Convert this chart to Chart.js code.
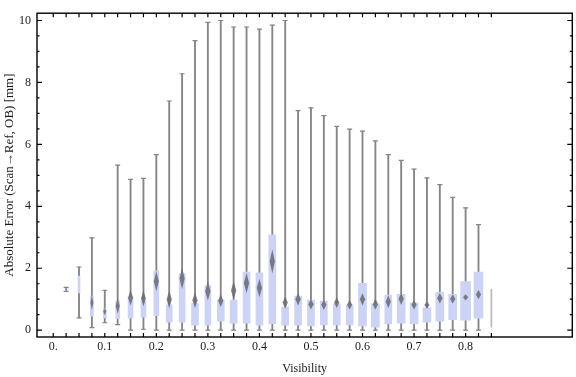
<!DOCTYPE html>
<html>
<head>
<meta charset="utf-8">
<script src="https://cdn.jsdelivr.net/npm/chart.js@4.4.0/dist/chart.umd.min.js"></script>
<style>
  html, body { margin: 0; padding: 0; background: #fff; }
  #wrap { width: 576px; height: 377px; }
</style>
</head>
<body>
<div id="wrap"><canvas id="chart"></canvas></div>
<script>
// visibility bins (box centres)
var visibility = [0.025, 0.05, 0.075, 0.1, 0.125, 0.15, 0.175, 0.2, 0.225, 0.25, 0.275,
  0.3, 0.325, 0.35, 0.375, 0.4, 0.425, 0.45, 0.475, 0.5, 0.525, 0.55, 0.575,
  0.6, 0.625, 0.65, 0.675, 0.7, 0.725, 0.75, 0.775, 0.8, 0.825];

// whisker ends [mm]
var whiskerLow = [1.25, 0.40, 0.08, 0.24, 0.18, 0.00, 0.03, 0.00, 0.00, 0.00, 0.00,
  0.00, 0.00, 0.00, 0.00, 0.00, 0.00, 0.00, 0.00, 0.00, 0.00, 0.00, 0.00,
  0.00, 0.00, 0.00, 0.00, 0.00, 0.00, 0.00, 0.00, 0.00, 0.00];
var whiskerHigh = [1.38, 2.04, 2.98, 1.29, 5.33, 4.87, 4.90, 5.67, 7.40, 8.28, 9.35,
  9.94, 10.0, 9.79, 9.79, 9.72, 9.85, 10.0, 7.09, 7.18, 6.93, 6.58, 6.49,
  6.43, 6.11, 5.67, 5.48, 5.20, 4.92, 4.70, 4.29, 3.95, 3.41];

// quartiles [mm]
var boxLow = [1.29, 1.20, 0.45, 0.40, 0.37, 0.40, 0.42, 0.47, 0.26, 0.26, 0.16,
  0.16, 0.29, 0.23, 0.23, 0.16, 0.21, 0.16, 0.16, 0.14, 0.17, 0.17, 0.17,
  0.14, 0.10, 0.20, 0.23, 0.20, 0.26, 0.29, 0.34, 0.32, 0.39];
var boxHigh = [1.35, 1.75, 1.10, 0.70, 0.94, 1.07, 0.94, 1.92, 0.82, 1.83, 0.86,
  1.44, 0.98, 0.97, 1.88, 1.85, 3.08, 0.75, 1.10, 0.97, 0.94, 0.85, 0.82,
  1.51, 0.85, 1.13, 1.16, 0.88, 0.72, 1.22, 1.16, 1.57, 1.88];

// median and half height of its diamond marker
var median = [1.32, 1.45, 0.89, 0.60, 0.78, 1.05, 1.02, 1.58, 0.99, 1.67, 0.97,
  1.26, 0.95, 1.28, 1.52, 1.36, 2.22, 0.89, 1.00, 0.84, 0.82, 0.89, 0.82,
  1.00, 0.84, 0.92, 1.01, 0.82, 0.81, 1.03, 1.01, 1.06, 1.15];
var medianSpread = [0.05, 0, 0.25, 0.12, 0.25, 0.25, 0.25, 0.32, 0.28, 0.35, 0.25,
  0.30, 0.20, 0.30, 0.33, 0.30, 0.39, 0.20, 0.20, 0.17, 0.17, 0.17, 0.15,
  0.20, 0.18, 0.20, 0.20, 0.15, 0.12, 0.17, 0.15, 0.10, 0.15];

// the clipped bin at the right edge
var clippedX = 0.85;
var clippedLow = 0.10;
var clippedHigh = 1.32;

var xTickValues = [0, 0.1, 0.2, 0.3, 0.4, 0.5, 0.6, 0.7, 0.8];
var xTickLabels = ["0.", "0.1", "0.2", "0.3", "0.4", "0.5", "0.6", "0.7", "0.8"];
var yTickValues = [0, 2, 4, 6, 8, 10];

// box widths in px (boxes get wider with more samples)
var boxPx = [2, 2, 3, 3, 4, 5, 5, 5, 6, 6, 7, 6, 7, 7, 7, 7, 7, 7, 7, 7, 7, 7, 7,
  8, 8, 7, 8, 8, 8, 8, 8, 10, 9];

var GREY = "#858585";
var BOX = "#ccd3f5";
var FONT = "'Liberation Serif', 'DejaVu Serif', serif";

var whiskerData = visibility.map(function(x, i) {
  return { x: x, y: [whiskerLow[i], whiskerHigh[i]] };
});
var capData = [];
visibility.forEach(function(x, i) {
  capData.push({ x: x, y: whiskerLow[i] });
  capData.push({ x: x, y: whiskerHigh[i] });
});

// one box dataset per width
var boxSets = [];
var widths = [];
boxPx.forEach(function(w) { if (widths.indexOf(w) < 0) widths.push(w); });
widths.forEach(function(w) {
  var d = [];
  visibility.forEach(function(x, i) {
    if (boxPx[i] === w) d.push({ x: x, y: [boxLow[i], boxHigh[i]] });
  });
  boxSets.push({
    type: "bar",
    data: d,
    backgroundColor: BOX,
    borderWidth: 0,
    barThickness: w,
    grouped: false,
    order: 1
  });
});

var datasets = boxSets.concat([
  {
    type: "bar",
    data: whiskerData,
    backgroundColor: GREY,
    borderWidth: 0,
    barThickness: 1.2,
    grouped: false,
    order: 3
  },
  {
    type: "bar",
    data: [{ x: clippedX, y: [clippedLow, clippedHigh] }],
    backgroundColor: "rgba(140,140,140,0.6)",
    borderWidth: 0,
    barThickness: 1,
    grouped: false,
    order: 3
  },
  {
    type: "line",
    data: capData,
    showLine: false,
    pointStyle: "line",
    pointRadius: 2.5,
    pointBorderWidth: 1.2,
    pointBorderColor: GREY,
    pointHoverRadius: 0,
    order: 2
  }
]);

// median diamonds, frame and inward ticks
var framePlugin = {
  id: "frame",
  afterDatasetsDraw: function(chart) {
    var ctx = chart.ctx;
    var xs = chart.scales.x, ys = chart.scales.y;
    ctx.save();
    visibility.forEach(function(x, i) {
      if (!medianSpread[i]) return;
      var cx = xs.getPixelForValue(x);
      var top = ys.getPixelForValue(median[i] + medianSpread[i]);
      var mid = ys.getPixelForValue(median[i]);
      var bot = ys.getPixelForValue(median[i] - medianSpread[i]);
      var hw = Math.min(2.6, boxPx[i] / 2);
      ctx.beginPath();
      ctx.moveTo(cx, top);
      ctx.lineTo(cx + hw, mid);
      ctx.lineTo(cx, bot);
      ctx.lineTo(cx - hw, mid);
      ctx.closePath();
      ctx.fillStyle = "rgba(105,105,112,0.85)";
      ctx.fill();
    });
    ctx.restore();
  },
  afterDraw: function(chart) {
    var ctx = chart.ctx;
    var a = chart.chartArea;
    var xs = chart.scales.x, ys = chart.scales.y;
    ctx.save();
    ctx.strokeStyle = "#000";
    ctx.lineWidth = 1.4;
    ctx.strokeRect(a.left, a.top, a.right - a.left, a.bottom - a.top);
    ctx.lineWidth = 1.2;
    ctx.beginPath();
    var xt = [0].concat(visibility).concat([clippedX]);
    xt.forEach(function(v) {
      var px = xs.getPixelForValue(v);
      ctx.moveTo(px, a.bottom); ctx.lineTo(px, a.bottom - 4);
      ctx.moveTo(px, a.top); ctx.lineTo(px, a.top + 4);
    });
    for (var k = 0; k <= 20; k++) {
      var v = k * 0.5;
      var py = ys.getPixelForValue(v);
      var len = (k % 4 === 0) ? 5 : 2.5;
      ctx.moveTo(a.left, py); ctx.lineTo(a.left + len, py);
      ctx.moveTo(a.right, py); ctx.lineTo(a.right - len, py);
    }
    ctx.stroke();
    ctx.restore();
  }
};

new Chart(document.getElementById("chart"), {
  type: "bar",
  data: { datasets: datasets },
  plugins: [framePlugin],
  options: {
    responsive: true,
    maintainAspectRatio: false,
    animation: false,
    events: [],
    layout: { padding: { top: 4, right: 1, left: 0, bottom: 0 } },
    plugins: { legend: { display: false }, tooltip: { enabled: false } },
    scales: {
      x: {
        type: "linear",
        offset: false,
        min: -0.0315,
        max: 1.007,
        grid: { display: false, drawTicks: false },
        border: { display: false },
        afterBuildTicks: function(scale) {
          scale.ticks = xTickValues.map(function(v) { return { value: v }; });
        },
        afterFit: function(scale) { scale.height = 40; },
        ticks: {
          padding: 3,
          maxRotation: 0,
          autoSkip: false,
          color: "#1a1a1a",
          font: { family: FONT, size: 12 },
          callback: function(value) {
            var i = xTickValues.indexOf(value);
            return i >= 0 ? xTickLabels[i] : "";
          }
        },
        title: {
          display: true,
          text: "Visibility",
          color: "#1a1a1a",
          font: { family: FONT, size: 12 },
          padding: { top: 0, bottom: 1 }
        }
      },
      y: {
        type: "linear",
        min: -0.22,
        max: 10.235,
        grid: { display: false, drawTicks: false },
        border: { display: false },
        afterBuildTicks: function(scale) {
          scale.ticks = yTickValues.map(function(v) { return { value: v }; });
        },
        afterFit: function(scale) { scale.width = 37; },
        ticks: {
          padding: 6,
          color: "#1a1a1a",
          font: { family: FONT, size: 12 }
        },
        title: {
          display: true,
          text: "Absolute Error (Scan\u2192Ref, OB) [mm]",
          color: "#1a1a1a",
          font: { family: FONT, size: 13 },
          padding: { top: 2, bottom: 0 }
        }
      }
    }
  }
});
</script>
</body>
</html>
